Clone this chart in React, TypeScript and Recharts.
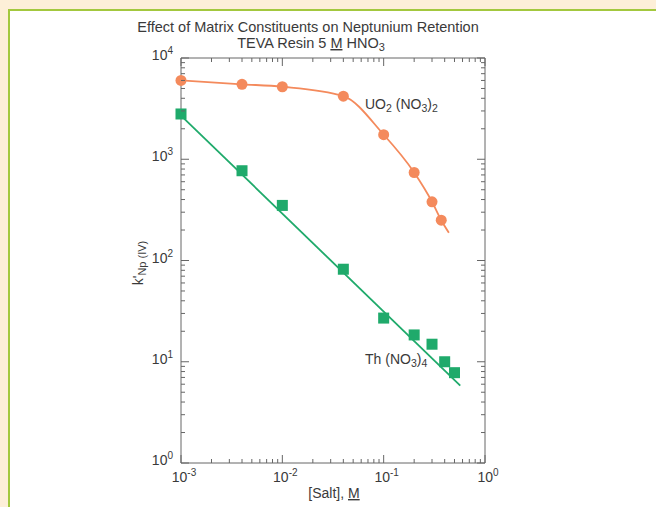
import React from "react";
import { ComposedChart, XAxis, YAxis, Line, Scatter } from "recharts";

// [Salt] (M) and k' values
const uo2Salt = [0.001, 0.004, 0.01, 0.04, 0.1, 0.2, 0.3, 0.37];
const uo2K = [6000, 5500, 5200, 4200, 1750, 740, 380, 250];
// smooth curve through the UO2 points, running a little past the last one
const uo2CurveSalt = [0.001, 0.004, 0.01, 0.04, 0.1, 0.2, 0.3, 0.37, 0.44];
const uo2CurveK = [6000, 5500, 5200, 4200, 1750, 740, 380, 250, 188];

const thSalt = [0.001, 0.004, 0.01, 0.04, 0.1, 0.2, 0.3, 0.4, 0.5];
const thK = [2800, 770, 350, 82, 27, 18.4, 14.9, 10, 7.8];
// straight fit line ends
const thFitSalt = [0.001, 0.57];
const thFitK = [2700, 5.8];

const xDecades = [0.001, 0.01, 0.1, 1];
const xDecadeLabels = ["-3", "-2", "-1", "0"];
const yDecades = [1, 10, 100, 1000, 10000];
const yDecadeLabels = ["0", "1", "2", "3", "4"];

const ORANGE = "#f48a5c";
const GREEN = "#1faa6b";
const INK = "#3a3a3a";
const AXIS = "#666";
const FONT = "'Liberation Sans', Arial, sans-serif";

const W = 656;
const H = 507;
// plot box
const LEFT = 181;
const RIGHT = 485;
const TOP = 58;
const BOTTOM = 463;

const toPoints = (xs: number[], ys: number[]) => xs.map((x, i) => ({ x, y: ys[i] }));
const uo2Points = toPoints(uo2Salt, uo2K);
const uo2Curve = toPoints(uo2CurveSalt, uo2CurveK);
const thPoints = toPoints(thSalt, thK);
const thFit = toPoints(thFitSalt, thFitK);

// major + minor (2..9) log ticks
const logTicks = (decades: number[]) => {
  const out: number[] = [];
  decades.forEach((d, i) => {
    out.push(d);
    if (i < decades.length - 1) {
      for (let k = 2; k <= 9; k++) out.push(+(d * k).toPrecision(6));
    }
  });
  return out;
};
const xTicks = logTicks(xDecades);
const yTicks = logTicks(yDecades);

const isMajor = (v: number) => {
  const l = Math.log10(v);
  return Math.abs(l - Math.round(l)) < 1e-6;
};

const MAJOR = 8;
const MINOR = 4;

const Pow = ({ x, y, exp, anchor }: { x: number; y: number; exp: string; anchor: string }) => (
  <text x={x} y={y} textAnchor={anchor} fontSize={14} fill={INK} fontFamily={FONT}>
    10<tspan dy={-6} fontSize={10}>{exp}</tspan>
  </text>
);

const BottomTick = (props: any) => {
  const { x, y, payload } = props;
  const v = payload.value;
  const major = isMajor(v);
  const idx = xDecades.findIndex((d) => Math.abs(d - v) < 1e-9);
  return (
    <g>
      <line x1={x} x2={x} y1={y} y2={y - (major ? MAJOR : MINOR)} stroke={AXIS} />
      {idx >= 0 && <Pow x={x + 3} y={y + 19} exp={xDecadeLabels[idx]} anchor="middle" />}
    </g>
  );
};

const TopTick = (props: any) => {
  const { x, y, payload } = props;
  const major = isMajor(payload.value);
  return <line x1={x} x2={x} y1={y} y2={y + (major ? MAJOR : MINOR)} stroke={AXIS} />;
};

const LeftTick = (props: any) => {
  const { x, y, payload } = props;
  const v = payload.value;
  const major = isMajor(v);
  const idx = yDecades.findIndex((d) => Math.abs(d - v) < 1e-9);
  return (
    <g>
      <line x1={x} x2={x + (major ? MAJOR : MINOR)} y1={y} y2={y} stroke={AXIS} />
      {idx >= 0 && <Pow x={x - 8} y={y + 2} exp={yDecadeLabels[idx]} anchor="end" />}
    </g>
  );
};

const RightTick = (props: any) => {
  const { x, y, payload } = props;
  const major = isMajor(payload.value);
  return <line x1={x} x2={x - (major ? MAJOR : MINOR)} y1={y} y2={y} stroke={AXIS} />;
};

const Square = (props: any) => {
  const { cx, cy } = props;
  if (cx == null || cy == null) return null;
  return <rect x={cx - 5.5} y={cy - 5.5} width={11} height={11} fill={GREEN} />;
};

const Dot = (props: any) => {
  const { cx, cy } = props;
  if (cx == null || cy == null) return null;
  return <circle cx={cx} cy={cy} r={5.5} fill={ORANGE} />;
};

const axisCommon = {
  type: "number" as const,
  scale: "log" as const,
  interval: 0,
  tickSize: 0,
  tickMargin: 0,
  tickLine: false,
  stroke: AXIS,
};

export default function App() {
  return (
    <div
      style={{
        position: "absolute",
        left: 0,
        top: 0,
        width: W,
        height: H,
        background: "#fdefd8",
        overflow: "hidden",
      }}
    >
      <div
        style={{
          position: "absolute",
          left: 8,
          top: 9,
          right: 0,
          bottom: 0,
          background: "#fff",
          borderLeft: "2px solid #a3c83e",
          borderTop: "2px solid #a3c83e",
        }}
      />
      <div style={{ position: "absolute", left: 0, top: 0 }}>
        <ComposedChart
          width={W}
          height={H}
          margin={{ top: TOP - 10, left: LEFT - 40, right: W - RIGHT - 10, bottom: H - BOTTOM - 30 }}
        >
          <XAxis
            {...axisCommon}
            xAxisId="b"
            dataKey="x"
            domain={[0.001, 1]}
            ticks={xTicks}
            height={30}
            tick={<BottomTick />}
          />
          <XAxis
            {...axisCommon}
            xAxisId="t"
            orientation="top"
            dataKey="x"
            domain={[0.001, 1]}
            ticks={xTicks}
            height={10}
            tick={<TopTick />}
          />
          <YAxis
            {...axisCommon}
            yAxisId="l"
            dataKey="y"
            domain={[1, 10000]}
            ticks={yTicks}
            width={40}
            tick={<LeftTick />}
          />
          <YAxis
            {...axisCommon}
            yAxisId="r"
            orientation="right"
            dataKey="y"
            domain={[1, 10000]}
            ticks={yTicks}
            width={10}
            tick={<RightTick />}
          />
          <Line
            xAxisId="b"
            yAxisId="l"
            data={uo2Curve}
            dataKey="y"
            type="monotone"
            stroke={ORANGE}
            strokeWidth={1.8}
            dot={false}
            activeDot={false}
            isAnimationActive={false}
          />
          <Line
            xAxisId="b"
            yAxisId="l"
            data={thFit}
            dataKey="y"
            type="linear"
            stroke={GREEN}
            strokeWidth={1.8}
            dot={false}
            activeDot={false}
            isAnimationActive={false}
          />
          <Scatter xAxisId="b" yAxisId="l" data={uo2Points} dataKey="y" shape={<Dot />} isAnimationActive={false} />
          <Scatter xAxisId="b" yAxisId="l" data={thPoints} dataKey="y" shape={<Square />} isAnimationActive={false} />
          {/* keep the mirrored axes tied to data so they draw */}
          <Scatter xAxisId="t" yAxisId="r" data={thPoints} dataKey="y" shape={() => null} isAnimationActive={false} />
        </ComposedChart>
      </div>
      <svg
        width={W}
        height={H}
        style={{ position: "absolute", left: 0, top: 0, pointerEvents: "none" }}
        fontFamily={FONT}
        fill={INK}
      >
        <text x={308} y={32} textAnchor="middle" fontSize={14.5}>
          Effect of Matrix Constituents on Neptunium Retention
        </text>
        <text x={311} y={48} textAnchor="middle" fontSize={14.5}>
          TEVA Resin 5 <tspan textDecoration="underline">M</tspan> HNO<tspan dy={3} fontSize={11}>3</tspan>
        </text>
        <text x={365} y={109} fontSize={14}>
          UO<tspan dy={3} fontSize={10.5}>2</tspan>
          <tspan dy={-3}> (NO</tspan>
          <tspan dy={3} fontSize={10.5}>3</tspan>
          <tspan dy={-3}>)</tspan>
          <tspan dy={3} fontSize={10.5}>2</tspan>
        </text>
        <text x={365} y={364} fontSize={14}>
          Th (NO<tspan dy={3} fontSize={10.5}>3</tspan>
          <tspan dy={-3}>)</tspan>
          <tspan dy={3} fontSize={10.5}>4</tspan>
        </text>
        <text x={334} y={498} textAnchor="middle" fontSize={14}>
          [Salt], <tspan textDecoration="underline">M</tspan>
        </text>
        <text transform="translate(143 263) rotate(-90)" textAnchor="middle" fontSize={14}>
          k'<tspan dy={3} fontSize={11}>Np (IV)</tspan>
        </text>
      </svg>
    </div>
  );
}
